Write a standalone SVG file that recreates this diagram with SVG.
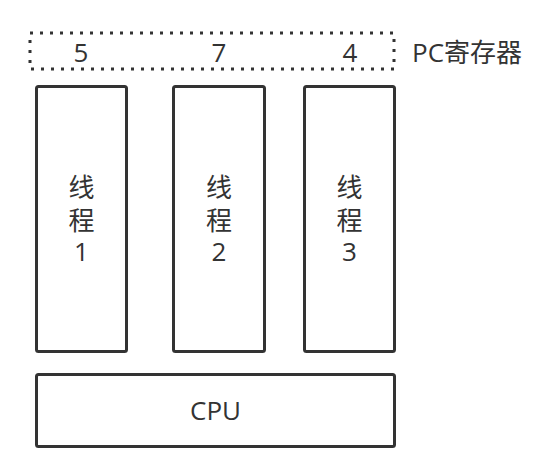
<svg xmlns="http://www.w3.org/2000/svg" width="533" height="469" viewBox="0 0 533 469">
<style>
.box{fill:#fff;stroke:#333;stroke-width:3}
.reg{fill:none;stroke:#333;stroke-width:3;stroke-dasharray:3 7}
.t{font-family:"Open Sans","Noto Sans CJK SC",sans-serif;font-size:26px;fill:#333;text-anchor:middle}
.l{text-anchor:start}
</style>
<rect width="533" height="469" fill="#fff"/>
<g id="pc-register">
<rect class="reg" x="30" y="33" width="364" height="36"/>
<text class="t" x="81" y="62">5</text>
<text class="t" x="219" y="62">7</text>
<text class="t" x="350" y="62">4</text>
<text class="t l" x="412" y="62">PC寄存器</text>
</g>
<g id="thread1">
<rect class="box" x="36.5" y="86.5" width="90" height="265" rx="2"/>
<text class="t"><tspan x="81.5" y="197">线</tspan><tspan x="81.5" y="230">程</tspan><tspan x="81.5" y="261">1</tspan></text>
</g>
<g id="thread2">
<rect class="box" x="173.5" y="86.5" width="91" height="265" rx="2"/>
<text class="t"><tspan x="219" y="197">线</tspan><tspan x="219" y="230">程</tspan><tspan x="219" y="261">2</tspan></text>
</g>
<g id="thread3">
<rect class="box" x="304.5" y="86.5" width="90" height="265" rx="2"/>
<text class="t"><tspan x="349.5" y="197">线</tspan><tspan x="349.5" y="230">程</tspan><tspan x="349.5" y="261">3</tspan></text>
</g>
<g id="cpu">
<rect class="box" x="36.5" y="374.5" width="358" height="72" rx="2"/>
<text class="t" x="215.5" y="420">CPU</text>
</g>
<g id="connectors"></g>
</svg>
